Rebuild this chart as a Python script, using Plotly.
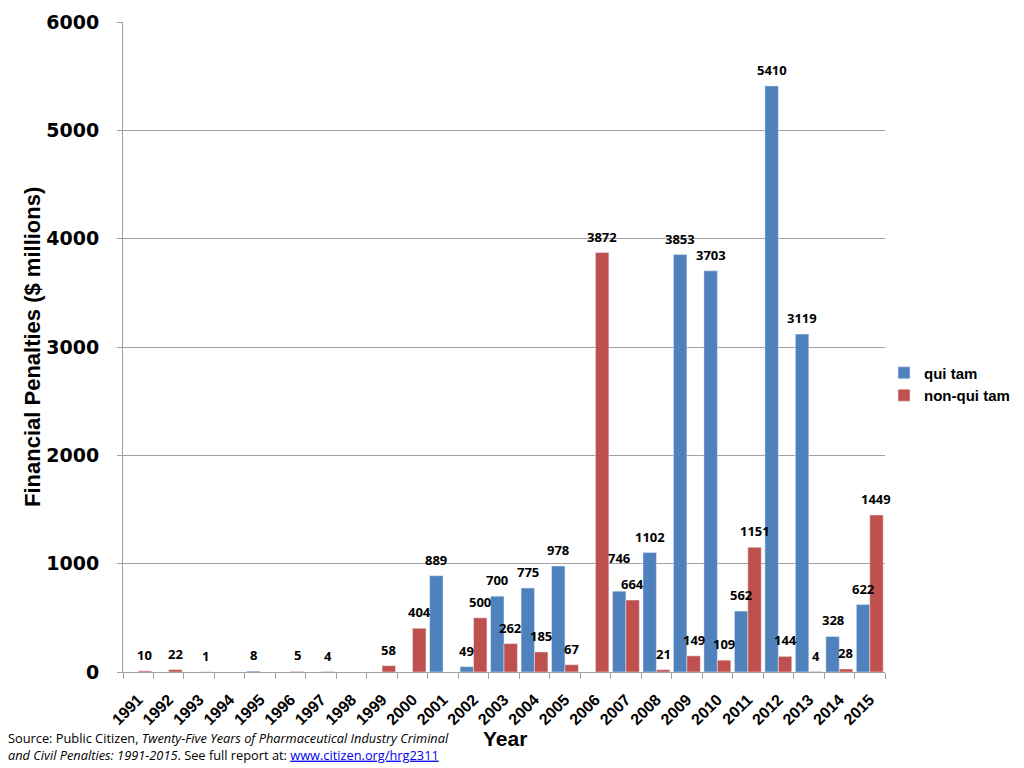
import plotly.graph_objects as go

years = [str(y) for y in range(1991, 2016)]
qui_tam = [None, None, None, None, 8, None, None, None, None, None,
           889, 49, 700, 775, 978, None, 746, 1102, 3853, 3703,
           562, 5410, 3119, 328, 622]
non_qui_tam = [10, 22, 1, None, None, 5, 4, None, 58, 404,
               None, 500, 262, 185, 67, 3872, 664, 21, 149, 109,
               1151, 144, 4, 28, 1449]

# label nudges (pixels) where the reference moved a data label by hand
label_nudge = {("qui tam", "2007"): 17}

BLUE = "#4F81BD"
RED = "#C0504D"
BARGAP = 0.12
lbl_font = dict(family="Open Sans", size=13, color="black", weight="bold")

fig = go.Figure()
fig.add_trace(go.Bar(x=years, y=qui_tam, name="qui tam", marker_color=BLUE))
fig.add_trace(go.Bar(x=years, y=non_qui_tam, name="non-qui tam", marker_color=RED))

# data labels above each bar (x given as category index)
cat_px = 762 / len(years)
half = cat_px * (1 - BARGAP) / 4
for name, vals, sgn in (("qui tam", qui_tam, -1), ("non-qui tam", non_qui_tam, 1)):
    for i, (yr, v) in enumerate(zip(years, vals)):
        if v is None:
            continue
        fig.add_annotation(x=i, y=v, xref="x", yref="y", text=str(v), showarrow=False,
                           xshift=sgn * half, yshift=16 + label_nudge.get((name, yr), 0),
                           xanchor="center", yanchor="middle", font=lbl_font)

fig.update_layout(
    width=1024, height=768,
    plot_bgcolor="white", paper_bgcolor="white",
    margin=dict(l=115, r=147, t=14, b=104, autoexpand=False),
    barmode="group", bargap=BARGAP, bargroupgap=0,
    font=dict(family="Liberation Sans", color="black"),
    legend=dict(x=(884 - 123) / 762, y=(672 - 384) / 650, xanchor="left", yanchor="middle",
                font=dict(family="Liberation Sans", size=15, color="black", weight="bold"),
                itemwidth=30, tracegroupgap=2, bgcolor="rgba(0,0,0,0)"),
    showlegend=True,
)
fig.update_yaxes(range=[0, 6000], dtick=1000, showgrid=True, gridcolor="#A0A0A0", gridwidth=1,
                 showline=True, linecolor="#A0A0A0", ticks="outside", ticklen=5, tickcolor="#A0A0A0",
                 tickfont=dict(family="DejaVu Sans", size=19, color="black", weight="bold"),
                 ticklabelstandoff=14, automargin=False, zeroline=False)
fig.update_xaxes(type="category", range=[-0.5, len(years) - 0.5],
                 tickson="boundaries", ticks="outside", ticklen=6,
                 tickcolor="#A0A0A0", showline=True, linecolor="#A0A0A0", tickangle=-45,
                 automargin=False, ticklabelstandoff=11,
                 tickfont=dict(family="Liberation Sans", size=16, color="black", weight="bold"))
fig.add_annotation(text="<b>Financial Penalties ($ millions)</b>", xref="paper", yref="paper",
                   x=(32 - 123) / 762, y=(672 - 347) / 650, xanchor="center", yanchor="middle",
                   textangle=-90, showarrow=False,
                   font=dict(family="Liberation Sans", size=22, color="black"))
fig.add_annotation(text="<b>Year</b>", xref="paper", yref="paper",
                   x=(505 - 123) / 762, y=-(738 - 672) / 650, xanchor="center", yanchor="middle",
                   showarrow=False, font=dict(family="Liberation Sans", size=21, color="black"))
fig.add_annotation(
    text="Source: Public Citizen, <i>Twenty-Five Years of Pharmaceutical Industry Criminal</i><br>"
         "<i>and Civil Penalties: 1991-2015</i>. See full report at: "
         "<span style='color:#0000EE'><u>www.citizen.org/hrg2311</u></span>",
    xref="paper", yref="paper", x=(6 - 123) / 762, y=-(727 - 672) / 650, xanchor="left", yanchor="top",
    align="left", showarrow=False, font=dict(family="Open Sans", size=12.8, color="black"))
fig.write_html("out.html")
